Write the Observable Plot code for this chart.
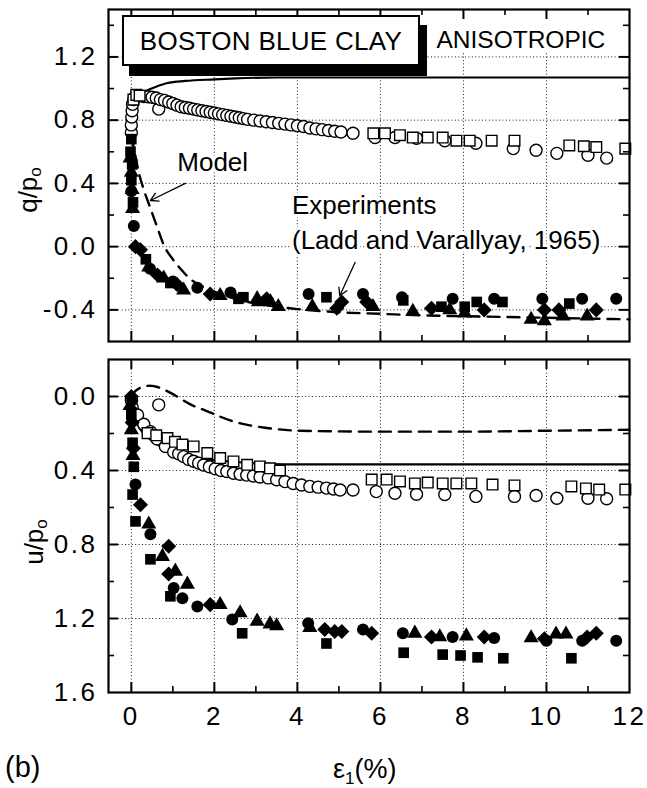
<!DOCTYPE html>
<html><head><meta charset="utf-8">
<script src="https://cdn.jsdelivr.net/npm/d3@7"></script>
<script src="https://cdn.jsdelivr.net/npm/@observablehq/plot@0.6"></script>
<style>
body{margin:0;background:#fff;}
#wrap{position:relative;width:647px;height:788px;font-family:"Liberation Sans",Arial,sans-serif;color:#000;overflow:hidden;}
#wrap svg{position:absolute;left:0;}
.abs{position:absolute;white-space:nowrap;line-height:1;}
.ytitle{font-size:26px;transform:translate(-50%,-50%) rotate(-90deg);}
.ytitle sub{font-size:17px;vertical-align:-4px;}
#bbc{left:122px;top:15px;width:298px;height:51px;box-sizing:border-box;border:2px solid #000;background:#fff;box-shadow:7px 10px 0 #000;font-size:26px;display:flex;align-items:center;justify-content:center;letter-spacing:0.3px;}
</style></head><body><div id="wrap"></div>
<script>
// ---------- ticks ----------
const xMajor = [0, 2, 4, 6, 8, 10];
const xMinor = [1, 3, 5, 7, 9, 11];
const xTickLabels = [0, 2, 4, 6, 8, 10, 12];
const qMajor = [-0.4, 0, 0.4, 0.8, 1.2];
const qMinor = [-0.2, 0.2, 0.6, 1.0, 1.4];
const uMajor = [0, 0.4, 0.8, 1.2];
const uMinor = [0.2, 0.6, 1.0, 1.4];
const uTickLabels = [0, 0.4, 0.8, 1.2, 1.6];

// ---------- top panel: q/po ----------
const topModelSolid = [[0,0.70],[0.03,0.88],[0.08,0.94],[0.2,0.965],[0.35,0.985],[0.63,1.015],[0.87,1.035],[1.3,1.048],[2.0,1.058],[2.5,1.064],[3.5,1.07],[12,1.07]];
const topModelDashed = [[0,0.70],[0.08,0.60],[0.17,0.48],[0.3,0.36],[0.45,0.25],[0.6,0.14],[0.8,0.0],[1.0,-0.08],[1.2,-0.145],[1.4,-0.20],[1.7,-0.25],[2.0,-0.285],[2.5,-0.33],[3.0,-0.36],[3.5,-0.38],[4.0,-0.395],[5,-0.415],[6,-0.425],[7,-0.435],[8,-0.44],[9,-0.445],[10,-0.45],[11,-0.455],[12,-0.46]];
const topOpenCircles = [[0,0.72],[0,0.77],[0.01,0.82],[0.02,0.86],[0.03,0.90],[0.06,0.93],[0.1,0.95],[0.2,0.955],[0.3,0.95],[0.4,0.948],[0.5,0.945],[0.6,0.94],[0.66,0.87],[0.7,0.93],[0.8,0.925],[0.9,0.915],[1.0,0.905],[1.1,0.895],[1.2,0.885],[1.3,0.88],[1.4,0.875],[1.5,0.87],[1.6,0.865],[1.7,0.86],[1.8,0.855],[1.9,0.85],[2.0,0.845],[2.1,0.84],[2.2,0.835],[2.3,0.83],[2.4,0.825],[2.5,0.82],[2.6,0.815],[2.7,0.81],[2.8,0.805],[2.95,0.80],[3.1,0.795],[3.25,0.79],[3.4,0.785],[3.55,0.78],[3.7,0.775],[3.85,0.77],[4.0,0.765],[4.15,0.76],[4.3,0.75],[4.45,0.745],[4.6,0.74],[4.75,0.735],[4.9,0.73],[5.05,0.725],[5.34,0.717],[5.87,0.69],[6.35,0.69],[6.87,0.685],[7.55,0.67],[8.3,0.654],[9.2,0.62],[9.75,0.61],[10.25,0.59],[11.0,0.578],[11.45,0.56]];
const topOpenSquares = [[0.05,0.93],[0.12,0.96],[0.2,0.955],[5.83,0.717],[6.11,0.717],[6.47,0.705],[6.78,0.69],[7.14,0.69],[7.5,0.69],[7.83,0.67],[8.15,0.67],[8.68,0.67],[9.23,0.67],[10.55,0.64],[10.9,0.635],[11.2,0.63],[11.9,0.62]];
const topFilledCircles = [[0.0,0.35],[0.06,0.13],[0.45,-0.14],[1.0,-0.22],[1.59,-0.26],[2.39,-0.29],[4.27,-0.30],[5.58,-0.30],[6.52,-0.32],[7.74,-0.33],[8.74,-0.33],[9.9,-0.33],[10.86,-0.33],[11.68,-0.33]];
const topFilledSquares = [[0.0,0.68],[-0.02,0.60],[0.02,0.52],[0.0,0.42],[0.04,0.28],[0.35,-0.08],[0.94,-0.23],[2.58,-0.33],[2.7,-0.32],[4.7,-0.32],[6.55,-0.34],[7.47,-0.38],[8.03,-0.38],[8.32,-0.35],[8.94,-0.35],[10.55,-0.36]];
const topFilledTriangles = [[-0.03,0.56],[0.0,0.47],[0.02,0.36],[0.03,0.24],[0.42,-0.13],[0.78,-0.20],[1.26,-0.275],[2.14,-0.31],[3.03,-0.33],[3.06,-0.35],[3.35,-0.35],[3.54,-0.38],[4.36,-0.38],[5.82,-0.38],[6.78,-0.41],[7.67,-0.40],[8.03,-0.42],[9.63,-0.46],[9.95,-0.47],[10.4,-0.44],[10.98,-0.44]];
const topFilledDiamonds = [[0.1,0.0],[0.22,-0.02],[0.63,-0.18],[1.1,-0.24],[1.9,-0.30],[3.26,-0.33],[4.95,-0.39],[5.07,-0.35],[5.67,-0.35],[7.23,-0.39],[8.5,-0.40],[9.95,-0.40],[10.3,-0.40],[11.2,-0.40]];

// ---------- bottom panel: u/po ----------
const botModelSolid = [[0,0],[0.05,0.08],[0.15,0.15],[0.3,0.2],[0.5,0.24],[0.8,0.28],[1.2,0.31],[1.7,0.335],[2.3,0.35],[3.0,0.362],[3.7,0.367],[12,0.367]];
const botModelDashed = [[0,0],[0.1,-0.03],[0.25,-0.05],[0.45,-0.058],[0.65,-0.05],[0.85,-0.03],[1.1,0.0],[1.4,0.04],[1.83,0.08],[2.46,0.135],[3.26,0.17],[4.06,0.185],[6,0.19],[8,0.19],[10,0.185],[12,0.18]];
const botOpenCircles = [[0,0.02],[0.02,0.06],[0.05,0.09],[0.15,0.1],[0.3,0.15],[0.46,0.19],[0.62,0.23],[0.66,0.045],[0.82,0.27],[1.02,0.3],[1.14,0.31],[1.26,0.325],[1.38,0.34],[1.5,0.35],[1.62,0.36],[1.74,0.37],[1.88,0.38],[2.02,0.39],[2.16,0.4],[2.3,0.405],[2.46,0.415],[2.62,0.42],[2.78,0.425],[2.94,0.43],[3.1,0.435],[3.3,0.44],[3.5,0.45],[3.7,0.46],[3.9,0.47],[4.1,0.478],[4.3,0.486],[4.5,0.49],[4.7,0.495],[4.87,0.5],[5.03,0.505],[5.34,0.505],[5.9,0.514],[6.35,0.523],[6.87,0.528],[7.55,0.53],[8.3,0.54],[9.23,0.54],[9.75,0.535],[10.25,0.55],[11.0,0.55],[11.45,0.553]];
const botOpenSquares = [[0.39,0.198],[0.6,0.21],[0.87,0.225],[1.05,0.245],[1.23,0.26],[1.5,0.27],[1.83,0.306],[2.14,0.333],[2.46,0.351],[2.79,0.369],[3.1,0.378],[3.34,0.388],[3.58,0.4],[5.79,0.449],[6.15,0.449],[6.47,0.459],[6.83,0.47],[7.14,0.465],[7.5,0.47],[7.83,0.47],[8.19,0.47],[8.7,0.476],[9.23,0.481],[10.6,0.486],[10.95,0.497],[11.27,0.503],[11.9,0.503]];
const botFilledCircles = [[0.02,0.02],[0.1,0.475],[0.46,0.745],[1.02,1.035],[1.23,1.09],[1.59,1.135],[2.43,1.205],[4.26,1.225],[5.58,1.26],[6.54,1.28],[7.74,1.3],[8.74,1.305],[10.0,1.32],[10.86,1.32],[11.68,1.32]];
const botFilledSquares = [[0.0,0.1],[0.03,0.25],[0.06,0.38],[0.03,0.53],[0.1,0.675],[0.46,0.88],[0.94,1.08],[2.67,1.28],[4.7,1.335],[6.56,1.385],[7.5,1.395],[7.93,1.4],[8.34,1.41],[8.96,1.415],[10.6,1.415]];
const botFilledTriangles = [[-0.03,0.05],[0.0,0.18],[0.04,0.32],[0.42,0.69],[0.75,0.865],[1.06,0.945],[1.35,1.015],[2.14,1.125],[2.62,1.17],[3.03,1.215],[3.34,1.23],[3.5,1.24],[4.3,1.25],[6.83,1.28],[7.43,1.3],[8.07,1.295],[9.63,1.305],[10.23,1.285],[10.47,1.285]];
const botFilledDiamonds = [[0.0,0.0],[0.02,0.14],[0.05,0.28],[0.22,0.585],[0.9,0.81],[0.9,0.96],[1.9,1.125],[4.66,1.26],[4.9,1.27],[5.07,1.27],[5.79,1.28],[7.23,1.3],[8.5,1.3],[9.95,1.31],[10.98,1.3],[11.2,1.28]];

// ---------- annotations ----------
const modelLabel = [{x: 1.96, y: 0.533, t: "Model"}];
const expLabels = [
  {x: 3.87, y: 0.26, t: "Experiments"},
  {x: 3.87, y: 0.038, t: "(Ladd and Varallyay, 1965)"}
];
const topArrows = [
  {x1: 1.30, y1: 0.40, x2: 0.46, y2: 0.292},
  {x1: 5.39, y1: -0.10, x2: 5.02, y2: -0.311}
];
const anisoLabel = [{x: 7.35, y: 1.308, t: "ANISOTROPIC"}];
const anisoBox = [{x1: 7.14, x2: 12, y1: 1.222, y2: 1.5}];

// ---------- layout ----------
const FONT = '"Liberation Sans", Arial, sans-serif';
const W = 647, ML = 108, MR = 18;
const innerW = W - ML - MR;
const X = d => d[0], Y = d => d[1];
const gridStyle = {stroke: "#000", strokeOpacity: 0.9, strokeWidth: 1, strokeDasharray: "1,2.4"};
// diamond drawn as a square rotated by 45 degrees
const squareDiamond = {
  draw(ctx, size) {
    const r = Math.sqrt(size / 2);
    ctx.moveTo(0, -r); ctx.lineTo(r, 0); ctx.lineTo(0, r); ctx.lineTo(-r, 0); ctx.closePath();
  }
};

function ticks(innerH, xs, ys, len, sw) {
  const s = {stroke: "#000", strokeWidth: sw};
  return [
    Plot.tickX(xs, {x: d => d, insetTop: innerH - len, ...s}),
    Plot.tickX(xs, {x: d => d, insetBottom: innerH - len, ...s}),
    Plot.tickY(ys, {y: d => d, insetRight: innerW - len, ...s}),
    Plot.tickY(ys, {y: d => d, insetLeft: innerW - len, ...s})
  ];
}
function points(data, symbol, open, r) {
  return Plot.dot(data, {x: X, y: Y, symbol, r,
    fill: open ? "white" : "black", stroke: open ? "black" : "none", strokeWidth: 1.4});
}
function lines(solid, dashed) {
  return [
    Plot.line(solid, {x: X, y: Y, stroke: "#000", strokeWidth: 2.2, curve: "monotone-x"}),
    Plot.line(dashed, {x: X, y: Y, stroke: "#000", strokeWidth: 2.4, strokeDasharray: "12,8", curve: "monotone-x"})
  ];
}

// top panel
const topH = 350, topMT = 9, topMB = 9;
const topInnerH = topH - topMT - topMB;
const topPlot = Plot.plot({
  width: W, height: topH,
  marginLeft: ML, marginRight: MR, marginTop: topMT, marginBottom: topMB,
  style: {fontFamily: FONT, fontSize: "26px", background: "transparent", overflow: "visible"},
  x: {domain: [-0.55, 12], axis: null},
  y: {domain: [-0.6, 1.5], label: null},
  marks: [
    Plot.gridX(xMajor, gridStyle),
    Plot.gridY(qMajor, gridStyle),
    Plot.rect(anisoBox, {x1: "x1", x2: "x2", y1: "y1", y2: "y2", fill: "white"}),
    ...lines(topModelSolid, topModelDashed),
    points(topOpenCircles, "circle", true, 6),
    points(topOpenSquares, "square", true, 6),
    points(topFilledCircles, "circle", false, 6),
    points(topFilledSquares, "square", false, 6),
    points(topFilledTriangles, "triangle", false, 5.6),
    points(topFilledDiamonds, squareDiamond, false, 6),
    Plot.text(modelLabel, {x: "x", y: "y", text: "t", textAnchor: "middle", lineAnchor: "middle", fill: "#000", stroke: "white", strokeWidth: 6}),
    Plot.text(expLabels, {x: "x", y: "y", text: "t", textAnchor: "start", lineAnchor: "middle", fill: "#000", stroke: "white", strokeWidth: 6}),
    Plot.arrow(topArrows, {x1: "x1", y1: "y1", x2: "x2", y2: "y2", stroke: "#000", strokeWidth: 1.3, headLength: 10}),
    Plot.text(anisoLabel, {x: "x", y: "y", text: "t", textAnchor: "start", lineAnchor: "middle", fill: "#000", fontSize: 24.5}),
    ...ticks(topInnerH, xMajor, qMajor, 10, 2),
    ...ticks(topInnerH, xMinor, qMinor, 6, 1.6),
    Plot.axisY(qMajor, {tickSize: 0, tickPadding: 11, tickFormat: d => d.toFixed(1), label: null}),
    Plot.frame({stroke: "#000", strokeWidth: 2.2})
  ]
});

// bottom panel
const botH = 438, botMT = 9, botMB = 96;
const botInnerH = botH - botMT - botMB;
const botPlot = Plot.plot({
  width: W, height: botH,
  marginLeft: ML, marginRight: MR, marginTop: botMT, marginBottom: botMB,
  style: {fontFamily: FONT, fontSize: "26px", background: "transparent", overflow: "visible"},
  x: {domain: [-0.55, 12], label: null},
  y: {domain: [-0.2, 1.6], reverse: true, label: null},
  marks: [
    Plot.gridX(xMajor, gridStyle),
    Plot.gridY(uMajor, gridStyle),
    ...lines(botModelSolid, botModelDashed),
    points(botOpenCircles, "circle", true, 6),
    points(botOpenSquares, "square", true, 6),
    points(botFilledCircles, "circle", false, 6),
    points(botFilledSquares, "square", false, 6),
    points(botFilledTriangles, "triangle", false, 5.6),
    points(botFilledDiamonds, squareDiamond, false, 6),
    ...ticks(botInnerH, xMajor, uMajor, 10, 2),
    ...ticks(botInnerH, xMinor, uMinor, 6, 1.6),
    Plot.axisY(uTickLabels, {tickSize: 0, tickPadding: 11, tickFormat: d => d.toFixed(1), label: null}),
    Plot.axisX(xTickLabels, {tickSize: 0, tickPadding: 14, tickFormat: d => String(d), label: null}),
    Plot.frame({stroke: "#000", strokeWidth: 2.2})
  ]
});

const wrap = document.getElementById("wrap");
topPlot.style.top = "0px";
botPlot.style.top = topH + "px";
wrap.appendChild(topPlot);
wrap.appendChild(botPlot);
// wider letter spacing on tick labels, like the original lettering
for (const svg of [topPlot, botPlot]) {
  svg.querySelectorAll('[aria-label$="tick label"] text').forEach(t => { t.style.letterSpacing = "2.5px"; });
}

function addDiv(html, cls, css) {
  const d = document.createElement("div");
  d.className = cls; d.innerHTML = html;
  Object.assign(d.style, css);
  wrap.appendChild(d);
  return d;
}
addDiv("BOSTON BLUE CLAY", "abs", {}).id = "bbc";
addDiv("q/p<sub>o</sub>", "abs ytitle", {left: "29px", top: "190px"});
addDiv("u/p<sub>o</sub>", "abs ytitle", {left: "35px", top: "542px"});
addDiv("(b)", "abs", {left: "5px", top: "753px", fontSize: "29px"});
addDiv("&epsilon;<sub style='font-size:17px;vertical-align:-6px'>1</sub>(%)", "abs", {left: "333px", top: "756px", fontSize: "27px"});
</script></body></html>
